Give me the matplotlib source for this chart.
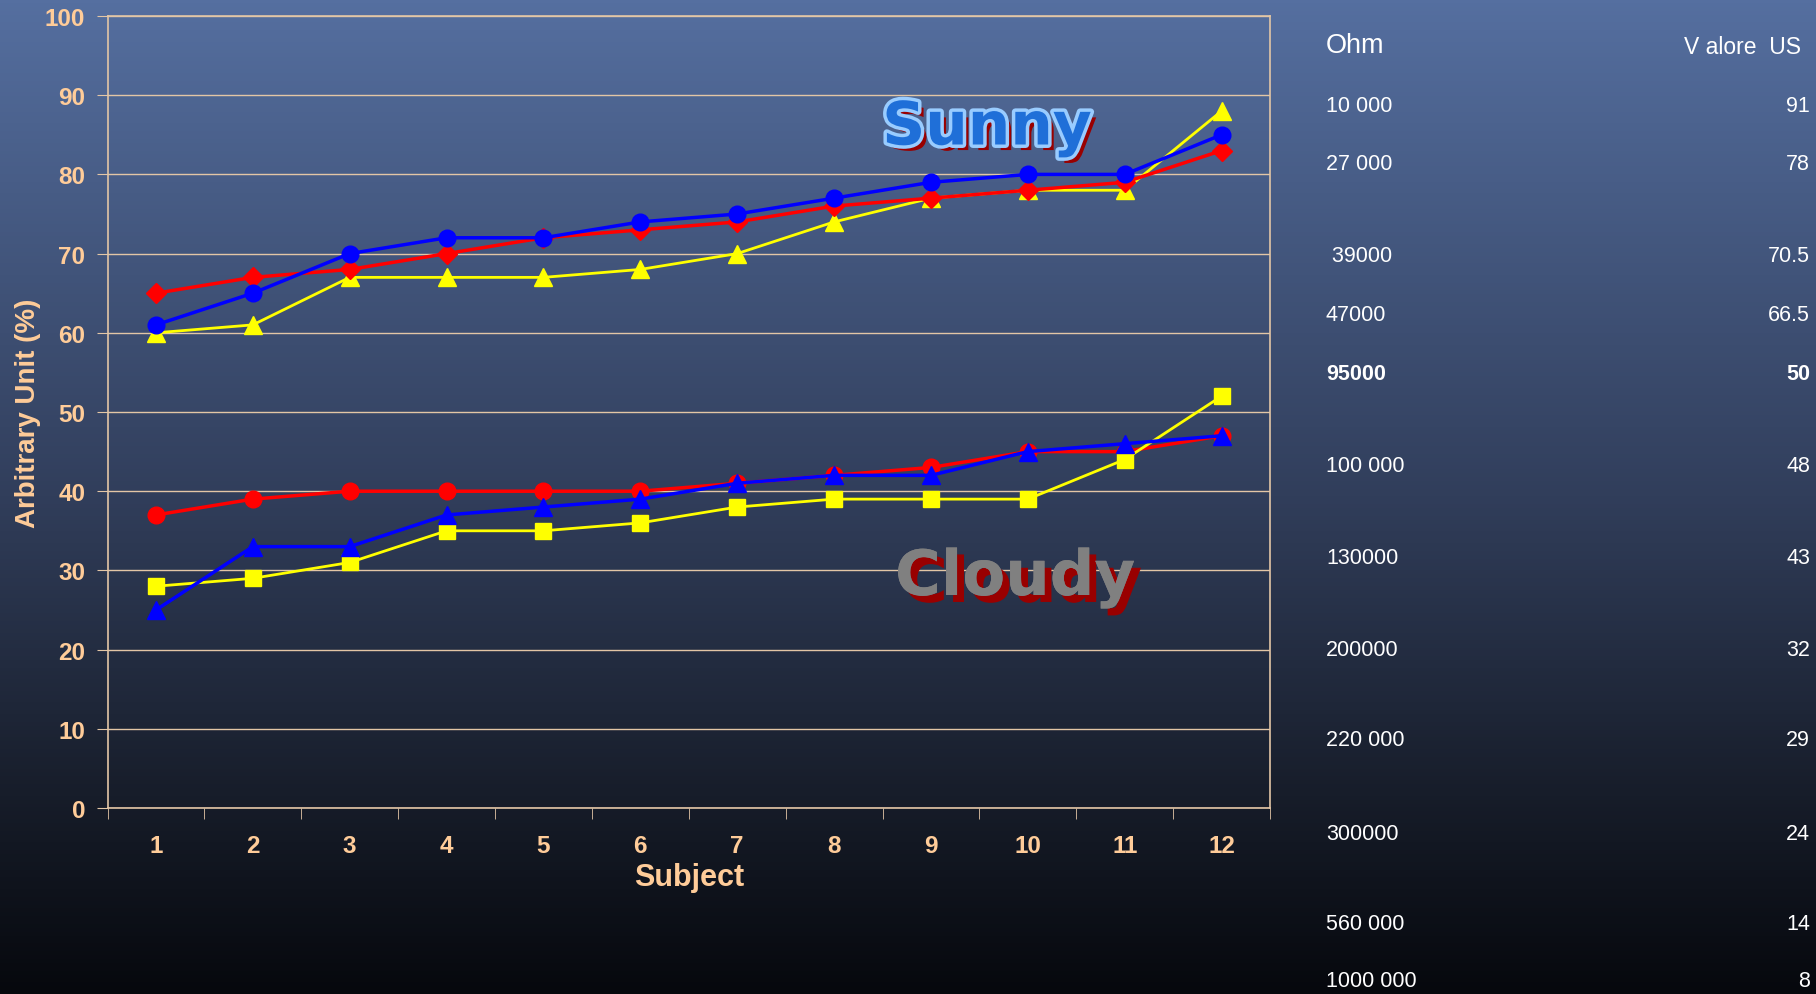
import numpy as np
import matplotlib
matplotlib.use('Agg')
import matplotlib.pyplot as plt
import matplotlib.patheffects as pe
from matplotlib.colors import LinearSegmentedColormap

# data
subjects = list(range(1, 13))
sunny_red = [65, 67, 68, 70, 72, 73, 74, 76, 77, 78, 79, 83]
sunny_blue = [61, 65, 70, 72, 72, 74, 75, 77, 79, 80, 80, 85]
sunny_yellow = [60, 61, 67, 67, 67, 68, 70, 74, 77, 78, 78, 88]
cloudy_red = [37, 39, 40, 40, 40, 40, 41, 42, 43, 45, 45, 47]
cloudy_blue = [25, 33, 33, 37, 38, 39, 41, 42, 42, 45, 46, 47]
cloudy_yellow = [28, 29, 31, 35, 35, 36, 38, 39, 39, 39, 44, 52]

ohm_labels = ['10 000', '27 000', ' 39000', '47000', '95000', '100 000',
              '130000', '200000', '220 000', '300000', '560 000', '1000 000']
us_values = ['91', '78', '70.5', '66.5', '50', '48', '43', '32', '29', '24', '14', '8']
bold_row = '95000'

# row positions of the side table (pixels from top)
row_px = [107, 165, 257, 316, 375, 467, 559, 650, 741, 834, 925, 982]

W, H = 1816, 995
PEACH = '#FFCC99'
GRID = '#E3C6A6'

fig = plt.figure(figsize=(W / 100, H / 100), dpi=100)

# gradient background
bg = fig.add_axes([0, 0, 1, 1], zorder=-10)
cmap = LinearSegmentedColormap.from_list(
    'bg', [(0.0, '#556FA0'), (0.5, '#313E5B'), (0.8, '#171D2A'), (1.0, '#06080D')])
grad = np.linspace(0, 1, 256).reshape(-1, 1)
bg.imshow(grad, aspect='auto', cmap=cmap, extent=[0, 1, 0, 1])
bg.set_axis_off()

ax = fig.add_axes([107.5 / W, 1 - 809 / H, (1270 - 107.5) / W, (809 - 17) / H])
ax.set_facecolor('none')

# cloudy group
ax.plot(subjects, cloudy_red, color='#FF0000', lw=2.5, marker='o', ms=12, zorder=3)
ax.plot(subjects, cloudy_yellow, color='#FFFF00', lw=2, marker='s', ms=11, zorder=4)
ax.plot(subjects, cloudy_blue, color='#0000FF', lw=2.5, marker='^', ms=13, zorder=5)
# sunny group
ax.plot(subjects, sunny_yellow, color='#FFFF00', lw=2, marker='^', ms=13, zorder=3)
ax.plot(subjects, sunny_red, color='#FF0000', lw=2.5, marker='D', ms=10, zorder=4)
ax.plot(subjects, sunny_blue, color='#0000FF', lw=2.5, marker='o', ms=12, zorder=5)

ax.set_xlim(0.5, 12.5)
ax.set_ylim(0, 100)
ax.set_yticks(range(0, 101, 10))
ax.set_xticks(subjects)
ax.set_xticks(np.arange(0.5, 13, 1), minor=True)
ax.yaxis.grid(True, color=GRID, lw=1)
ax.set_axisbelow(True)

for s in ax.spines.values():
    s.set_color(GRID)
    s.set_linewidth(1.2)

ax.tick_params(axis='x', which='major', length=0, pad=19, labelsize=17.5,
               labelcolor=PEACH)
ax.tick_params(axis='x', which='minor', length=8, color=GRID, direction='out')
ax.tick_params(axis='y', length=8, color=GRID, direction='out', pad=8,
               labelsize=17.5, labelcolor=PEACH)
for lab in ax.get_xticklabels() + ax.get_yticklabels():
    lab.set_fontweight('bold')
    lab.set_family('Liberation Sans')

ax.set_xlabel('Subject', fontsize=22, fontweight='bold', color=PEACH,
              family='Liberation Sans', labelpad=3)
ax.set_ylabel('Arbitrary Unit (%)', fontsize=20, fontweight='bold', color=PEACH,
              family='Liberation Sans', labelpad=3)

# annotations
fig.text(987 / W, 1 - 129 / H, 'Sunny', ha='center', va='center', fontsize=43,
         fontweight='bold', family='DejaVu Sans', color='#1F6FD8',
         path_effects=[pe.withSimplePatchShadow(offset=(4, -4), shadow_rgbFace='#990000', alpha=1),
                       pe.Stroke(linewidth=5, foreground='#99CCFF'), pe.Normal()])
fig.text(1015 / W, 1 - 579 / H, 'Cloudy', ha='center', va='center', fontsize=45,
         fontweight='bold', family='DejaVu Sans', color='#808080',
         path_effects=[pe.withSimplePatchShadow(offset=(5, -5), shadow_rgbFace='#990000', alpha=1),
                       pe.Normal()])

# side table
fig.text(1326 / W, 1 - 46 / H, 'Ohm', ha='left', va='center', fontsize=19.5,
         color='white', family='Liberation Sans')
fig.text(1801 / W, 1 - 48 / H, 'V alore  US', ha='right', va='center', fontsize=16.5,
         color='white', family='Liberation Sans')
for lab, val, ypx in zip(ohm_labels, us_values, row_px):
    w = 'bold' if lab == bold_row else 'normal'
    fig.text(1326 / W, 1 - ypx / H, lab, ha='left', va='center', fontsize=15.5,
             color='white', family='Liberation Sans', fontweight=w)
    fig.text(1810 / W, 1 - ypx / H, val, ha='right', va='center', fontsize=15.5,
             color='white', family='Liberation Sans', fontweight=w)

fig.savefig('out.png', dpi=100)
